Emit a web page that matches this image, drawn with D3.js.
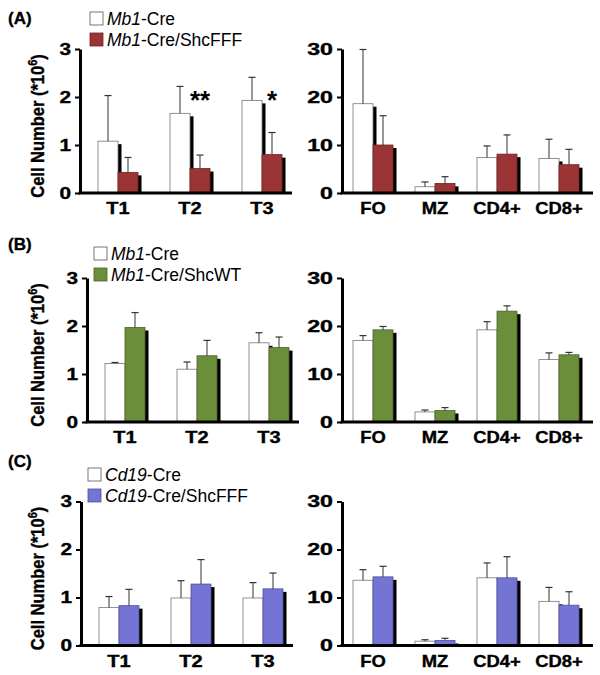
<!DOCTYPE html>
<html>
<head>
<meta charset="utf-8">
<script src="https://cdn.jsdelivr.net/npm/d3@7"></script>
<style>
  body { margin: 0; background: #fff; }
  text { font-family: "Liberation Sans", Arial, sans-serif; }
  .heavy { stroke: #000; stroke-width: 0.35px; }
</style>
</head>
<body>
<svg id="chart" width="600" height="675"></svg>
<script>
// categories
var leftCats = ["T1", "T2", "T3"];
var rightCats = ["FO", "MZ", "CD4+", "CD8+"];
var leftTicks = [0, 1, 2, 3];
var rightTicks = [0, 10, 20, 30];

// panel A  (Mb1-Cre vs Mb1-Cre/ShcFFF)
var aLeftCtrl = [1.08, 1.66, 1.93], aLeftCtrlErr = [0.95, 0.56, 0.48];
var aLeftMut = [0.43, 0.51, 0.80], aLeftMutErr = [0.31, 0.28, 0.46];
var aRightCtrl = [18.6, 1.3, 7.4, 7.2], aRightCtrlErr = [11.3, 1.0, 2.4, 4.0];
var aRightMut = [10.0, 2.0, 8.1, 5.9], aRightMutErr = [6.1, 1.4, 4.0, 3.2];
var aSig = ["", "**", "*"];

// panel B  (Mb1-Cre vs Mb1-Cre/ShcWT)
var bLeftCtrl = [1.22, 1.10, 1.65], bLeftCtrlErr = [0.02, 0.15, 0.21];
var bLeftMut = [1.97, 1.38, 1.55], bLeftMutErr = [0.31, 0.32, 0.22];
var bRightCtrl = [17.0, 2.1, 19.2, 13.0], bRightCtrlErr = [1.0, 0.4, 1.7, 1.4];
var bRightMut = [19.2, 2.4, 23.1, 14.0], bRightMutErr = [0.7, 0.6, 1.1, 0.5];

// panel C  (Cd19-Cre vs Cd19-Cre/ShcFFF)
var cLeftCtrl = [0.79, 0.99, 0.99], cLeftCtrlErr = [0.23, 0.36, 0.32];
var cLeftMut = [0.83, 1.28, 1.18], cLeftMutErr = [0.34, 0.51, 0.33];
var cRightCtrl = [13.6, 0.9, 14.1, 9.2], cRightCtrlErr = [2.2, 0.3, 3.1, 2.9];
var cRightMut = [14.3, 1.05, 14.1, 8.4], cRightMutErr = [2.2, 0.45, 4.4, 2.8];

var svg = d3.select("#chart");

var panels = [
    {label: "(A)", labelY: 24, top: 49, leftX: 80, legX: 90, legY: 12, gene: "Mb1", mutName: "ShcFFF", color: "#9b3535", stroke: "#6e2424",
        left: [aLeftCtrl, aLeftCtrlErr, aLeftMut, aLeftMutErr], right: [aRightCtrl, aRightCtrlErr, aRightMut, aRightMutErr], sig: aSig},
    {label: "(B)", labelY: 250, top: 278, leftX: 87, legX: 94, legY: 247, gene: "Mb1", mutName: "ShcWT", color: "#6b8e3a", stroke: "#4a6428",
        left: [bLeftCtrl, bLeftCtrlErr, bLeftMut, bLeftMutErr], right: [bRightCtrl, bRightCtrlErr, bRightMut, bRightMutErr]},
    {label: "(C)", labelY: 467, top: 501.5, leftX: 81, legX: 88, legY: 468, gene: "Cd19", mutName: "ShcFFF", color: "#7474d4", stroke: "#4e4ea0",
        left: [cLeftCtrl, cLeftCtrlErr, cLeftMut, cLeftMutErr], right: [cRightCtrl, cRightCtrlErr, cRightMut, cRightMutErr]}
];

var plotH = 144;

function drawPlot(g, cats, series, ticks, axisX, axisEnd, bandStart, bandW, top, p, tickStretch, labStretch) {
    var y = d3.scaleLinear().domain([ticks[0], ticks[ticks.length - 1]]).range([top + plotH, top]);
    var x = d3.scaleBand().domain(cats).range([bandStart, bandStart + bandW * cats.length]);
    var x1 = d3.scaleBand().domain([0, 1]).range([0, 40]);
    var y0 = y(0);

    // bars
    cats.forEach(function (c, i) {
        [0, 1].forEach(function (s) {
            var v = series[s * 2][i], e = series[s * 2 + 1][i];
            var bx = x(c) + x.bandwidth() / 2 - 20 + x1(s);
            var bw = x1.bandwidth();
            g.append("rect")
                .attr("x", bx + 3.5).attr("y", y(v) + 3)
                .attr("width", bw).attr("height", Math.max(0, y0 - y(v) - 3))
                .attr("fill", "#000");
            g.append("rect")
                .attr("x", bx).attr("y", y(v))
                .attr("width", bw).attr("height", y0 - y(v))
                .attr("fill", s === 0 ? "#fff" : p.color)
                .attr("stroke", s === 0 ? "#777" : p.stroke)
                .attr("stroke-width", 0.8);
            var cx = bx + bw / 2;
            g.append("line")
                .attr("x1", cx).attr("x2", cx)
                .attr("y1", y(v)).attr("y2", y(v + e))
                .attr("stroke", "#333").attr("stroke-width", 1);
            g.append("line")
                .attr("x1", cx - 3.5).attr("x2", cx + 3.5)
                .attr("y1", y(v + e)).attr("y2", y(v + e))
                .attr("stroke", "#333").attr("stroke-width", 1.2);
        });
        if (p.sig && p.sig[i]) {
            g.append("text")
                .attr("x", x(c) + x.bandwidth() / 2 + 10)
                .attr("y", y(2.05) + 14)
                .attr("text-anchor", "middle")
                .attr("font-weight", "bold")
                .attr("font-size", "26px")
                .text(p.sig[i]);
        }
    });

    // y axis
    var ax = g.append("g").attr("transform", "translate(" + axisX + ",0)")
        .call(d3.axisLeft(y).tickValues(ticks).tickFormat(d3.format("d"))
            .tickSize(5).tickPadding(3).tickSizeOuter(0));
    ax.select(".domain").attr("stroke", "#000").attr("stroke-width", 3);
    ax.selectAll(".tick line").attr("stroke", "#000").attr("stroke-width", 2);
    ax.selectAll(".tick text")
        .attr("class", "heavy")
        .attr("fill", "#000")
        .attr("font-size", "16px")
        .attr("font-weight", "bold")
        .attr("x", -9 / tickStretch)
        .attr("transform", "scale(" + tickStretch + ",1)");

    // x axis
    g.append("line")
        .attr("x1", axisX - 1.5).attr("x2", axisEnd)
        .attr("y1", y0).attr("y2", y0)
        .attr("stroke", "#000").attr("stroke-width", 3);
    cats.forEach(function (c) {
        var lx = x(c) + x.bandwidth() / 2;
        g.append("text")
            .attr("class", "heavy")
            .attr("transform", "translate(" + lx + "," + (y0 + 21) + ") scale(" + labStretch + ",1)")
            .attr("text-anchor", "middle")
            .attr("font-weight", "bold")
            .attr("font-size", "16px")
            .text(c);
    });
}

panels.forEach(function (p) {
    var g = svg.append("g");

    g.append("text").attr("class", "heavy").attr("x", 8).attr("y", p.labelY)
        .attr("font-weight", "bold").attr("font-size", "17px").text(p.label);

    // legend
    [0, 1].forEach(function (s) {
        var ly = p.legY + s * 21;
        g.append("rect").attr("x", p.legX).attr("y", ly)
            .attr("width", 13).attr("height", 13)
            .attr("fill", s === 0 ? "#fff" : p.color)
            .attr("stroke", s === 0 ? "#555" : p.stroke).attr("stroke-width", 0.8);
        var t = g.append("text").attr("x", p.legX + 17).attr("y", ly + 12.5)
            .attr("font-size", "17.5px");
        t.append("tspan").attr("font-style", "italic").text(p.gene);
        t.append("tspan").text(s === 0 ? "-Cre" : "-Cre/" + p.mutName);
    });

    // y title
    var yt = g.append("text")
        .attr("class", "heavy")
        .attr("transform", "translate(44," + (p.top + plotH / 2 + 5) + ") rotate(-90) scale(1,1.1)")
        .attr("text-anchor", "middle")
        .attr("font-weight", "bold").attr("font-size", "16.5px");
    yt.append("tspan").text("Cell Number (*10");
    yt.append("tspan").attr("font-size", "11px").attr("dy", -6).text("6");
    yt.append("tspan").attr("dy", 6).text(")");

    drawPlot(g, leftCats, p.left, leftTicks, p.leftX, p.leftX + 212, p.leftX + 2, 72, p.top, p, 1.3, 1.25);
    drawPlot(g, rightCats, p.right, rightTicks, 342, 593, 342, 62, p.top, {color: p.color, stroke: p.stroke}, 1.45, 1.15);
});
</script>
</body>
</html>
